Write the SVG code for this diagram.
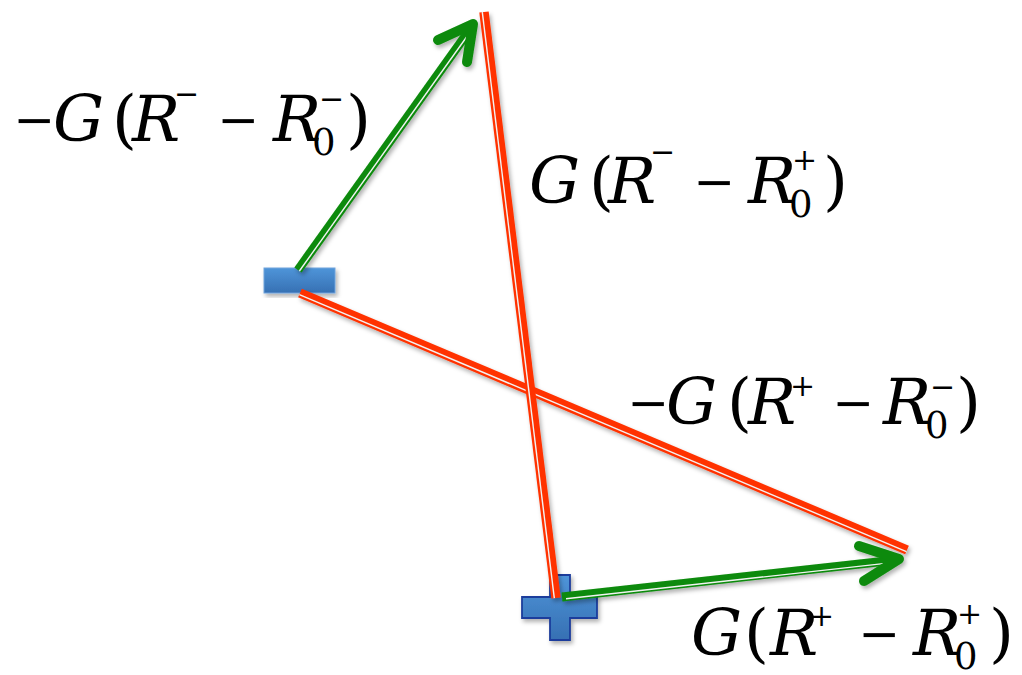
<svg xmlns="http://www.w3.org/2000/svg" width="1022" height="675" viewBox="0 0 1022 675">
<style>
text{font-size:64px;fill:#000}
.it{font-style:italic}
.mn{font-size:50px}
.sp{font-size:30px}
.sb{font-size:37px}
.red{stroke:#ff3300;stroke-width:9.5;fill:none}
.grn{stroke:#0a8a0a;stroke-width:9;fill:none}
.inner{stroke:#f2f2f2;stroke-width:1.4;fill:none}
.head{stroke:#0a8a0a;stroke-width:10;fill:none;stroke-linecap:round;stroke-linejoin:round}
</style>
<defs>
<filter id="sh" x="-20%" y="-20%" width="140%" height="140%">
<feDropShadow dx="2" dy="3" stdDeviation="2" flood-color="#000" flood-opacity="0.3"/>
</filter>
<linearGradient id="blue" x1="0" y1="0" x2="0" y2="1">
<stop offset="0" stop-color="#4f95d9"/>
<stop offset="1" stop-color="#3670b3"/>
</linearGradient>
</defs>
<rect width="1022" height="675" fill="#fff"/>
<g id="minus" filter="url(#sh)">
<rect x="264" y="268" width="71" height="25" fill="url(#blue)" stroke="#6fa3dc" stroke-width="1"/>
</g>
<g id="plus" filter="url(#sh)">
<path d="M550,575 H570 V597 H597 V618 H570 V640 H550 V618 H522 V597 H550 Z" fill="url(#blue)" stroke="#1c3d9c" stroke-width="1.8"/>
</g>
<g id="connectors" filter="url(#sh)">
<line class="red" x1="300" y1="293" x2="907" y2="550"/>
<line class="inner" x1="299.4" y1="294.6" x2="906.4" y2="551.6"/>
<line class="red" x1="484" y1="12" x2="556" y2="598"/>
<line class="inner" x1="482.3" y1="12.2" x2="554.3" y2="598.2"/>
<line class="grn" x1="298" y1="270" x2="471" y2="28"/>
<line class="inner" x1="299.4" y1="271" x2="470.5" y2="31.5"/>
<path class="head" d="M438,40 L473,24 L467,62"/>
<line class="grn" x1="562" y1="597" x2="896" y2="560"/>
<line class="inner" x1="566" y1="598.8" x2="890" y2="562.9"/>
<path class="head" d="M859,546 L899,559 L864,581"/>
</g>
<g id="label1">
<text font-family="DejaVu Serif"><tspan class="mn" x="13.5" y="137">−</tspan><tspan class="it" x="53" y="141">G</tspan><tspan x="112" y="141">(</tspan><tspan class="it" x="132" y="141">R</tspan><tspan class="sp" x="174" y="104">−</tspan><tspan class="mn" x="217.5" y="137">−</tspan><tspan class="it" x="273" y="141">R</tspan><tspan class="sb" x="312" y="155">0</tspan><tspan class="sp" x="319" y="109">−</tspan><tspan x="346" y="141">)</tspan></text>
</g>
<g id="label2">
<text font-family="DejaVu Serif"><tspan class="it" x="529" y="203">G</tspan><tspan x="589" y="203">(</tspan><tspan class="it" x="608" y="203">R</tspan><tspan class="sp" x="650" y="162">−</tspan><tspan class="mn" x="693.5" y="199">−</tspan><tspan class="it" x="748" y="203">R</tspan><tspan class="sb" x="789" y="217">0</tspan><tspan class="sp" x="792" y="170">+</tspan><tspan x="823" y="203">)</tspan></text>
</g>
<g id="label3">
<text font-family="DejaVu Serif"><tspan class="mn" x="627.5" y="420">−</tspan><tspan class="it" x="666" y="424">G</tspan><tspan x="727" y="424">(</tspan><tspan class="it" x="748" y="424">R</tspan><tspan class="sp" x="790" y="396">+</tspan><tspan class="mn" x="832.5" y="420">−</tspan><tspan class="it" x="883" y="424">R</tspan><tspan class="sb" x="925" y="438">0</tspan><tspan class="sp" x="930" y="397">−</tspan><tspan x="956" y="424">)</tspan></text>
</g>
<g id="label4">
<text font-family="DejaVu Serif"><tspan class="it" x="691" y="655">G</tspan><tspan x="744" y="655">(</tspan><tspan class="it" x="770" y="655">R</tspan><tspan class="sp" x="809" y="626">+</tspan><tspan class="mn" x="858.5" y="651">−</tspan><tspan class="it" x="913" y="655">R</tspan><tspan class="sb" x="954" y="669">0</tspan><tspan class="sp" x="957" y="624">+</tspan><tspan x="989" y="655">)</tspan></text>
</g>
</svg>
